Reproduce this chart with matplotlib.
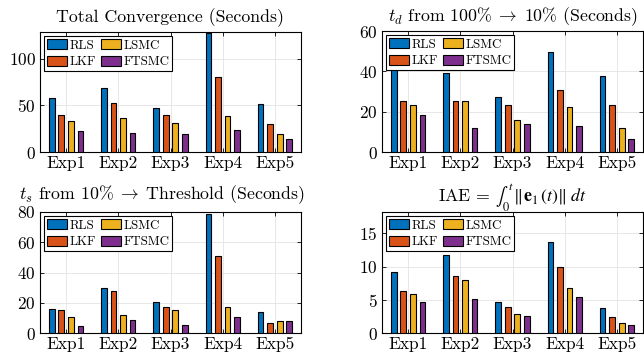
import numpy as np
import matplotlib
matplotlib.use("Agg")
import matplotlib.pyplot as plt

plt.rcParams['font.family'] = ['cmr10', 'DejaVu Serif']
plt.rcParams['mathtext.fontset'] = 'cm'
plt.rcParams['axes.formatter.use_mathtext'] = True

# data
experiments = ['Exp1', 'Exp2', 'Exp3', 'Exp4', 'Exp5']
methods = ['RLS', 'LKF', 'LSMC', 'FTSMC']
colors = ['#0072BD', '#D95319', '#EDB120', '#7E2F8E']

total_conv = [[58, 68.5, 47.5, 128, 51.5],
              [40.3, 52.5, 40, 81, 29.6],
              [33.8, 37, 31, 39, 19.3],
              [22.5, 20.3, 19.3, 23.5, 14]]

t_d = [[42.5, 39, 27.5, 49.4, 37.9],
       [25.4, 25.4, 23.2, 30.8, 23.2],
       [23.2, 25.4, 16, 22.2, 11.9],
       [18.1, 12, 14, 13, 6.4]]

t_s = [[16.1, 29.5, 20.3, 78.9, 14.1],
       [15, 27.5, 17.2, 50.7, 6.8],
       [10.8, 11.9, 15, 17.2, 7.7],
       [4.6, 8.8, 5.5, 10.8, 7.7]]

iae = [[9.2, 11.7, 4.7, 13.7, 3.7],
       [6.35, 8.6, 3.85, 9.95, 2.4],
       [5.85, 7.95, 2.9, 6.75, 1.5],
       [4.7, 5.15, 2.6, 5.4, 1.2]]

titles = ['Total Convergence (Seconds)',
          r'$t_d$ from 100%$\;\rightarrow\;$10% (Seconds)',
          r'$t_s$ from 10%$\;\rightarrow\;$Threshold (Seconds)',
          r'IAE = $\int_0^t\,\Vert\mathbf{e}_1\,(t)\Vert\;dt$']
math_fonts = ['cm', 'cm', 'cm', 'stix']
title_x = [0.5, 0.5, 0.466, 0.5]
title_pad = [7, 7, 9.5, 7]
datasets = [total_conv, t_d, t_s, iae]
ylims = [129, 60, 80, 18.2]
yticks = [[0, 50, 100], [0, 20, 40, 60], [0, 20, 40, 60, 80], [0, 5, 10, 15]]

W, H = 644, 360
fig = plt.figure(figsize=(W / 100, H / 100), dpi=100)

# axes boxes in pixels: left, right, top, bottom
boxes = [(40, 301, 32, 152), (382, 643, 31, 152),
         (40, 301, 212, 333), (382, 643, 212, 333)]

x = np.arange(1, len(experiments) + 1)
slot = 0.182
width = 0.6 * slot

for k, (box, data) in enumerate(zip(boxes, datasets)):
    l, r, t, b = box
    ax = fig.add_axes([l / W, 1 - b / H, (r - l) / W, (b - t) / H])
    for i, (m, c) in enumerate(zip(methods, colors)):
        ax.bar(x + (i - 1.5) * slot, data[i], width, color=c,
               edgecolor='black', linewidth=0.8, label=m, zorder=3)
    ax.set_xlim(0.5, 5.5)
    ax.set_ylim(0, ylims[k])
    ax.set_xticks(x)
    ax.set_xticklabels(experiments)
    ax.set_yticks(yticks[k])
    ax.tick_params(direction='in', length=3, width=0.6, labelsize=12.5,
                   top=True, right=True, pad=3)
    ax.grid(True, color='#e3e3e3', linewidth=0.6, zorder=0)
    for s in ax.spines.values():
        s.set_linewidth(0.8)
    ax.set_title(titles[k], fontsize=12.8, pad=title_pad[k], x=title_x[k],
                 math_fontfamily=math_fonts[k])
    leg = ax.legend(loc='upper left', ncol=2, fontsize=9.3, frameon=True,
                    fancybox=False, edgecolor='black', framealpha=1,
                    handlelength=1.55, handleheight=0.85, handletextpad=0.2,
                    columnspacing=0.35, labelspacing=0.3, borderpad=0.25,
                    borderaxespad=0.3)
    leg.get_frame().set_linewidth(0.8)
    leg.set_zorder(5)

fig.savefig('out.png', dpi=100)
